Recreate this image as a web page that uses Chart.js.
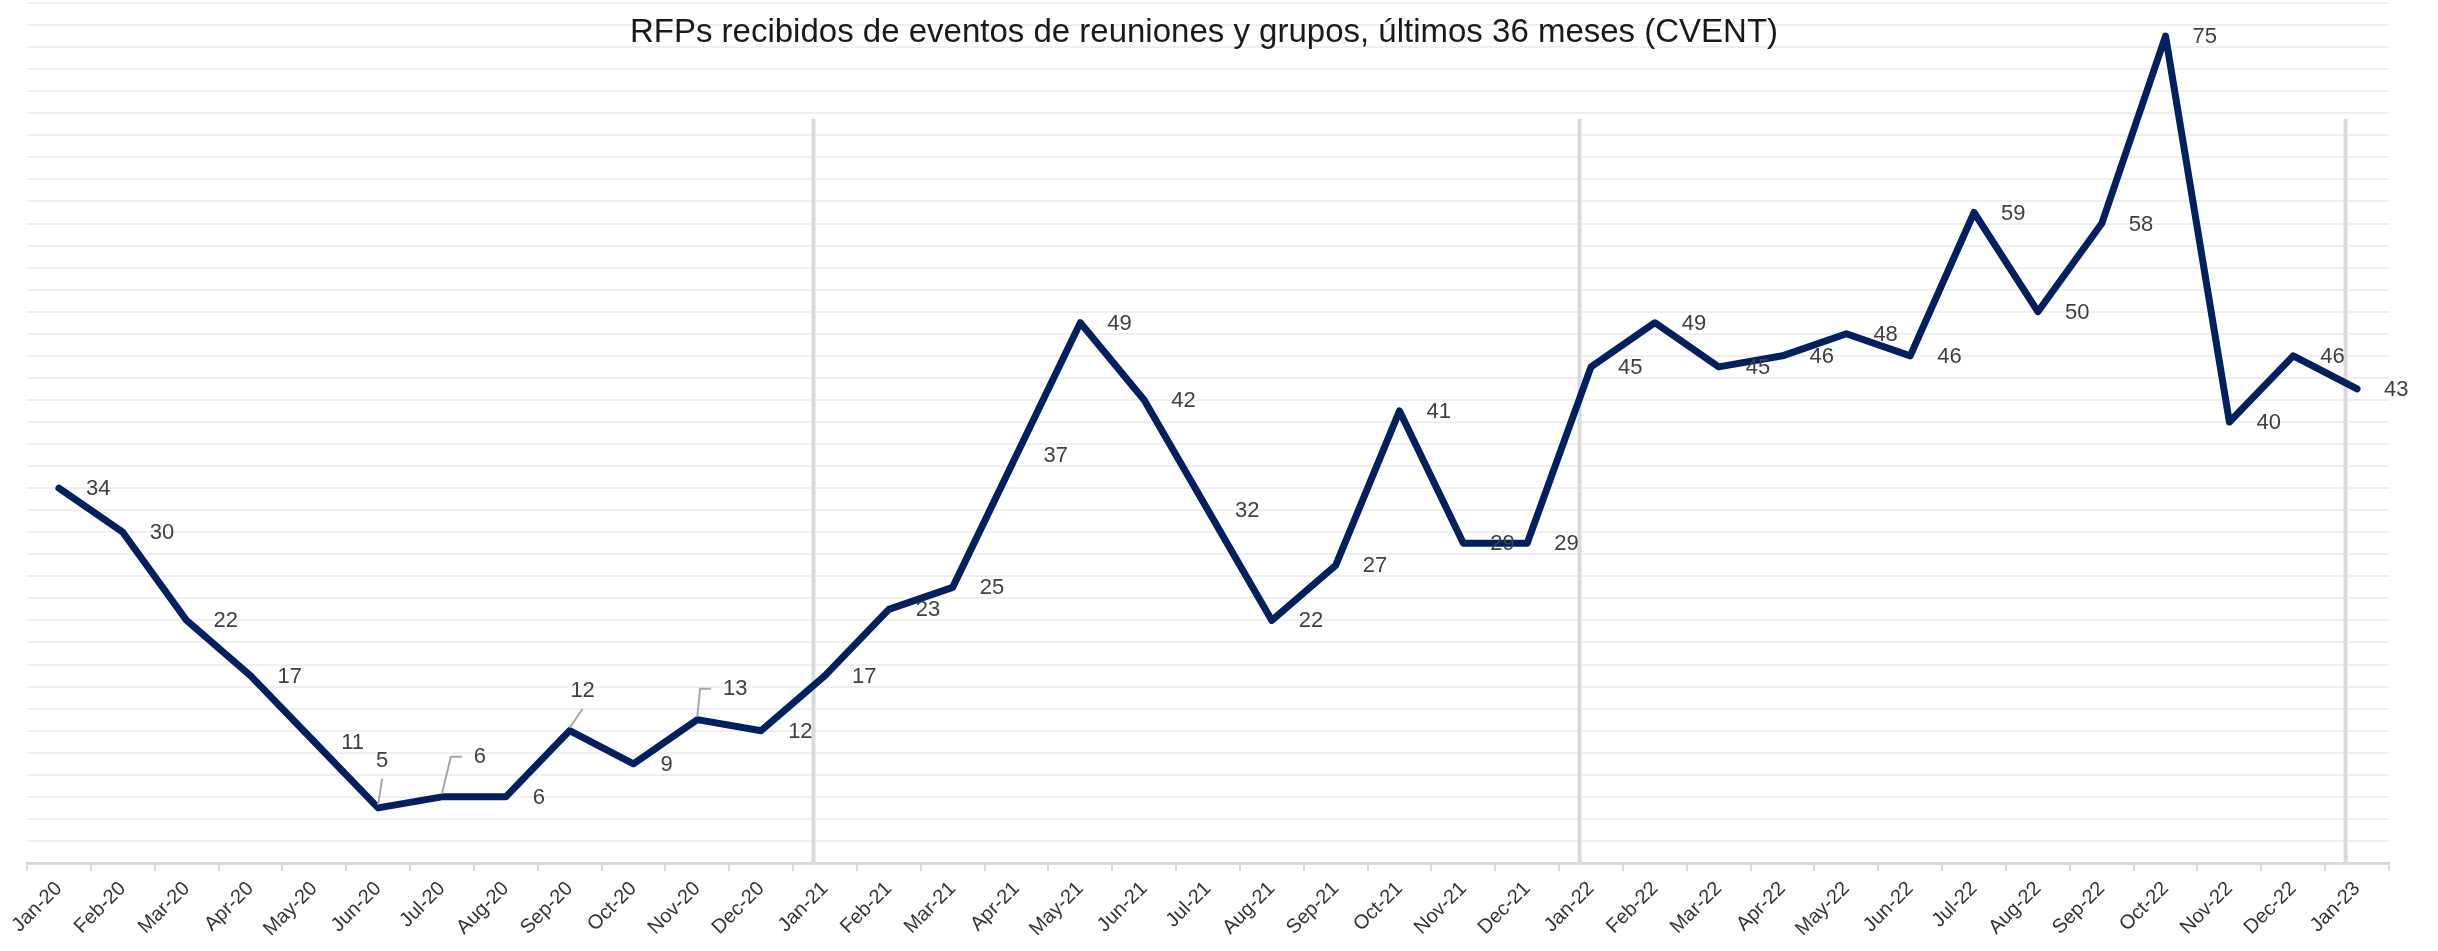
<!DOCTYPE html>
<html>
<head>
<meta charset="utf-8">
<title>RFPs recibidos</title>
<script src="https://cdn.jsdelivr.net/npm/chart.js@4.4.1/dist/chart.umd.min.js"></script>
<style>
  html, body { margin: 0; padding: 0; background: #fff; }
  canvas { display: block; }
</style>
</head>
<body>
<canvas id="rfpChart" width="2438" height="951"></canvas>
<script>
var chartTitle = 'RFPs recibidos de eventos de reuniones y grupos, últimos 36 meses (CVENT)';

var months = ['Jan-20', 'Feb-20', 'Mar-20', 'Apr-20', 'May-20', 'Jun-20', 'Jul-20', 'Aug-20',
    'Sep-20', 'Oct-20', 'Nov-20', 'Dec-20', 'Jan-21', 'Feb-21', 'Mar-21', 'Apr-21', 'May-21',
    'Jun-21', 'Jul-21', 'Aug-21', 'Sep-21', 'Oct-21', 'Nov-21', 'Dec-21', 'Jan-22', 'Feb-22',
    'Mar-22', 'Apr-22', 'May-22', 'Jun-22', 'Jul-22', 'Aug-22', 'Sep-22', 'Oct-22', 'Nov-22',
    'Dec-22', 'Jan-23'];

var rfps = [34, 30, 22, 17, 11, 5, 6, 6, 12, 9, 13, 12,
    17, 23, 25, 37, 49, 42, 32, 22, 27, 41, 29, 29,
    45, 49, 45, 46, 48, 46, 59, 50, 58, 75, 40, 46,
    43];

// grey year separators
var yearMarks = ['Jan-21', 'Jan-22', 'Jan-23'];
var yearMarkTop = 67.5;

// labels that were dragged off the line in the original (offset of label centre, px)
var movedLabels = {
    'Jun-20': [4, -47],
    'Jul-20': [38, -40],
    'Sep-20': [13, -40],
    'Nov-20': [38, -31]
};

var FONT = '"Liberation Sans", Arial, sans-serif';

var yearLines = {
    id: 'yearLines',
    beforeDatasetsDraw: function (chart) {
        var x = chart.scales.x, y = chart.scales.y, ctx = chart.ctx;
        ctx.save();
        ctx.strokeStyle = '#d9d9d9';
        ctx.lineWidth = 4;
        yearMarks.forEach(function (m) {
            var px = x.getPixelForValue(months.indexOf(m) - 0.18);
            ctx.beginPath();
            ctx.moveTo(px, y.getPixelForValue(yearMarkTop));
            ctx.lineTo(px, y.getPixelForValue(0));
            ctx.stroke();
        });
        ctx.restore();
    }
};

var valueLabels = {
    id: 'valueLabels',
    afterDatasetsDraw: function (chart) {
        var ctx = chart.ctx;
        var pts = chart.getDatasetMeta(0).data;
        ctx.save();
        ctx.font = '22px ' + FONT;
        ctx.fillStyle = '#404040';
        ctx.textBaseline = 'middle';
        pts.forEach(function (p, i) {
            var txt = String(rfps[i]);
            var moved = movedLabels[months[i]];
            if (!moved) {
                ctx.textAlign = 'left';
                ctx.fillText(txt, p.x + 27, p.y + 1);
                return;
            }
            var lx = p.x + moved[0], ly = p.y + moved[1];
            var half = ctx.measureText(txt).width / 2;
            ctx.strokeStyle = '#a6a6a6';
            ctx.lineWidth = 2;
            ctx.beginPath();
            ctx.moveTo(p.x, p.y - 3);
            if (lx - half - p.x > 20) {
                ctx.lineTo(lx - half - 23, ly);
                ctx.lineTo(lx - half - 12, ly);
            } else {
                ctx.lineTo(lx, ly + 18);
            }
            ctx.stroke();
            ctx.textAlign = 'center';
            ctx.fillText(txt, lx, ly);
        });
        ctx.restore();
    }
};

// title sits on top of the plot area, like the Excel original
var overlayTitle = {
    id: 'overlayTitle',
    afterDraw: function (chart) {
        var ctx = chart.ctx, a = chart.chartArea;
        ctx.save();
        ctx.font = '33px ' + FONT;
        ctx.fillStyle = '#1a1a1a';
        ctx.textAlign = 'center';
        ctx.textBaseline = 'alphabetic';
        ctx.fillText(chartTitle, (a.left + a.right) / 2 - 4, 42);
        ctx.restore();
    }
};

new Chart(document.getElementById('rfpChart'), {
    type: 'line',
    data: {
        labels: months,
        datasets: [{
            data: rfps,
            borderColor: '#002060',
            borderWidth: 7,
            pointRadius: 0,
            tension: 0,
            borderJoinStyle: 'round',
            borderCapStyle: 'round'
        }]
    },
    options: {
        responsive: false,
        animation: false,
        devicePixelRatio: 1,
        layout: { padding: { left: 27, right: 49, top: 3, bottom: 0 } },
        plugins: {
            legend: { display: false },
            tooltip: { enabled: false },
            title: { display: false }
        },
        scales: {
            x: {
                offset: true,
                grid: { offset: true, drawOnChartArea: false, color: '#d9d9d9', lineWidth: 2, tickLength: 8 },
                border: { display: true, color: '#d9d9d9', width: 3 },
                ticks: {
                    autoSkip: false,
                    maxRotation: 45,
                    minRotation: 45,
                    padding: 6,
                    color: '#333333',
                    font: { family: FONT, size: 20 }
                },
                afterFit: function (s) {
                    s.height = 88;
                    s.paddingLeft = 0;
                    s.paddingRight = 0;
                }
            },
            y: {
                min: 0,
                max: 78,
                ticks: { display: false, stepSize: 2 },
                grid: { color: '#efefef', lineWidth: 2, drawTicks: false },
                border: { display: false },
                afterFit: function (s) { s.width = 0; }
            }
        }
    },
    plugins: [yearLines, valueLabels, overlayTitle]
});
</script>
</body>
</html>
